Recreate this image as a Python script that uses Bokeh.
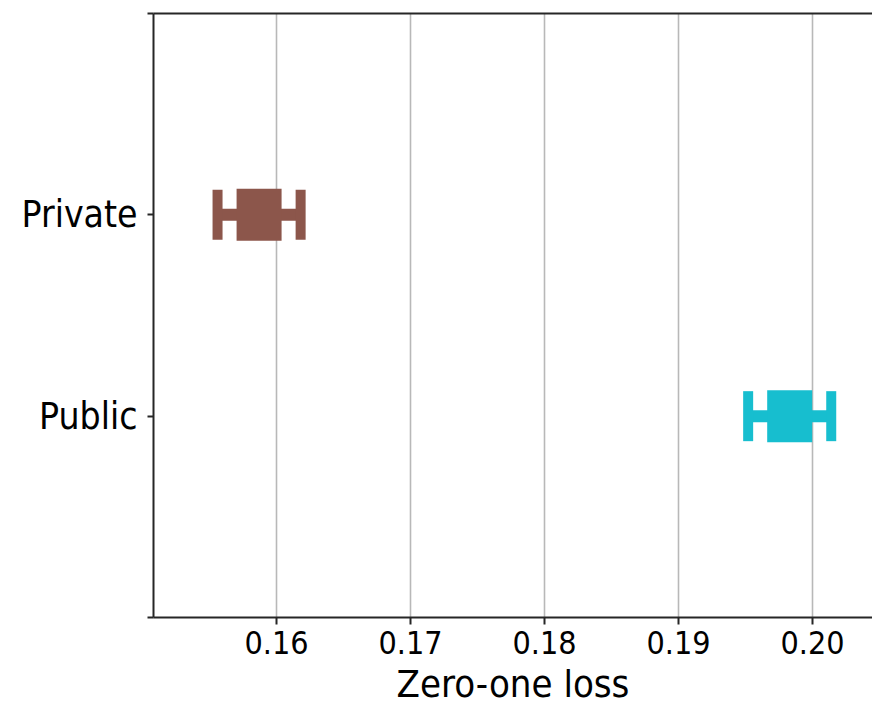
import numpy as np
from bokeh.plotting import figure
from bokeh.models import Range1d, FixedTicker, LinearAxis, ColumnDataSource, PrintfTickFormatter
from bokeh.embed import file_html
from bokeh.resources import INLINE

# ---- data ----
groups = ["Public", "Private"]
group_pos = [1, 2]
means = [0.1983, 0.1587]
errors = [0.0031, 0.0031]
colors = ["#17becf", "#8c564b"]
x_ticks = [0.16, 0.17, 0.18, 0.19, 0.20]
y_ticks = [0, 1, 2, 3]
y_labels = {0: "", 1: "Public", 2: "Private", 3: ""}

lower = [m - e for m, e in zip(means, errors)]
upper = [m + e for m, e in zip(means, errors)]
src = ColumnDataSource(dict(y=group_pos, m=means, lo=lower, hi=upper, c=colors))

FONT = "DejaVu Sans Condensed"
SPINE = "#262626"

p = figure(width=872, height=709, output_backend="svg", toolbar_location=None,
           x_range=Range1d(0.15082, 0.20448), y_range=Range1d(0, 3),
           min_border_left=153, min_border_right=0, min_border_top=13, min_border_bottom=92)
p.outline_line_color = None
p.background_fill_color = "white"
p.border_fill_color = "white"

# whiskers
p.segment(x0="lo", y0="y", x1="hi", y1="y", source=src, line_color="c",
          line_width=12, line_cap="butt")
# caps
p.rect(x="lo", y="y", width=10, height=50, width_units="screen", height_units="screen",
       source=src, fill_color="c", line_color=None)
p.rect(x="hi", y="y", width=10, height=50, width_units="screen", height_units="screen",
       source=src, fill_color="c", line_color=None)
# central box
p.rect(x="m", y="y", width=45, height=52, width_units="screen", height_units="screen",
       source=src, fill_color="c", line_color=None)

# x axis
xa = p.xaxis[0]
xa.ticker = FixedTicker(ticks=x_ticks)
xa.formatter = PrintfTickFormatter(format="%.2f")
xa.axis_label = "Zero-one loss"
xa.axis_label_text_font = FONT
xa.axis_label_text_font_size = "38px"
xa.axis_label_text_font_style = "normal"
xa.axis_label_text_color = "black"
xa.axis_label_standoff = 5
xa.major_label_text_font = FONT
xa.major_label_text_font_size = "32px"
xa.major_label_text_color = "black"
xa.major_label_standoff = 6
xa.major_tick_out = 7
xa.major_tick_in = 0
xa.major_tick_line_width = 2
xa.major_tick_line_color = SPINE
xa.minor_tick_line_color = None
xa.axis_line_width = 2
xa.axis_line_color = SPINE

# y axis
ya = p.yaxis[0]
ya.ticker = FixedTicker(ticks=y_ticks)
ya.major_label_overrides = y_labels
ya.major_label_text_font = FONT
ya.major_label_text_font_size = "37px"
ya.major_label_text_color = "black"
ya.major_label_standoff = 10
ya.major_tick_out = 6
ya.major_tick_in = 0
ya.major_tick_line_width = 2
ya.major_tick_line_color = SPINE
ya.minor_tick_line_color = None
ya.axis_line_width = 2
ya.axis_line_color = SPINE

# top spine
top = LinearAxis(ticker=FixedTicker(ticks=[]), major_tick_line_color=None,
                 minor_tick_line_color=None, major_label_text_font_size="0px",
                 major_label_standoff=0, axis_line_width=2, axis_line_color=SPINE)
p.add_layout(top, "above")

# grid
p.xgrid.ticker = FixedTicker(ticks=x_ticks)
p.xgrid.grid_line_color = "#b8b8b8"
p.xgrid.grid_line_width = 1.6
p.ygrid.grid_line_color = None

open("out.html", "w").write(file_html(p, INLINE))
